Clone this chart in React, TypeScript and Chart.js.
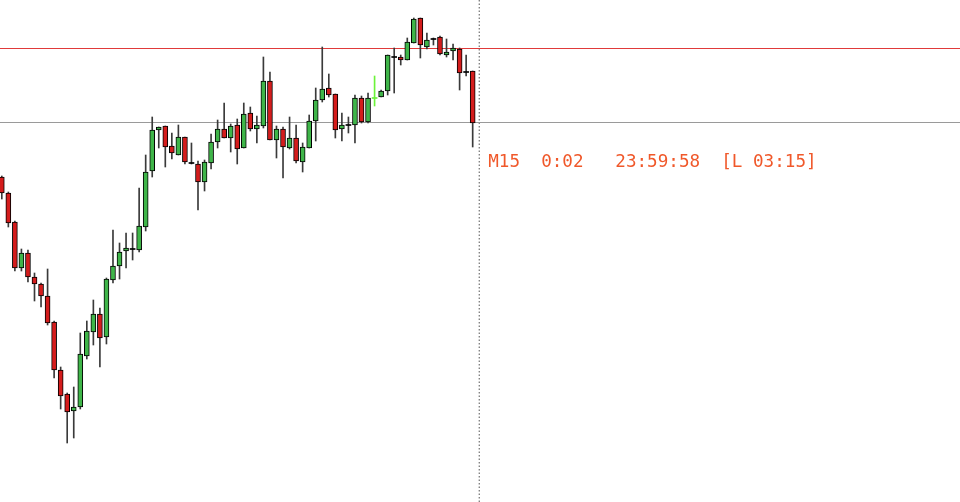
import React, { useEffect, useRef } from "react";
import { Chart, registerables } from "chart.js";

Chart.register(...registerables);

// Candle readings (chart units, axis reversed: smaller = higher price)
const opens = [177,193,222,268,253,277,284,296,322,370,394,411,407,356,332,314,337,280,266,251,249,250,227,171,130,126,146,155,137,163,164,182,163,142,129,138,125,148,113,129,126,81,140,129,148,138,162,148,121,100,88,94,129,125,125,98,122,98,97,91,57,57,60,43,18,47,39,37,55,51,49,72,71];
const highs = [176,192,221,249,250,273,283,269,321,367,393,387,333,321,300,308,278,230,243,233,233,188,155,117,127,126,133,125,137,143,161,160,134,120,103,124,119,103,107,116,57,72,126,127,117,125,143,115,88,47,74,94,113,117,95,96,93,76,90,55,48,55,38,18,18,33,38,36,39,44,48,55,71];
const lows = [199,227,271,271,282,301,307,325,378,409,443,438,409,359,345,367,344,283,279,268,260,252,231,177,148,167,159,155,164,164,210,191,169,148,138,152,164,148,131,143,128,140,158,178,149,163,172,148,141,102,97,138,141,133,143,123,123,106,97,95,93,65,60,43,58,49,45,55,57,60,90,76,147];
const closes = [193,223,268,253,277,284,296,323,370,396,412,407,354,331,314,338,279,266,252,248,249,226,172,130,127,147,153,137,162,163,182,162,142,129,138,126,149,114,129,125,81,140,129,147,138,161,147,121,100,89,95,130,125,125,98,122,98,98,91,55,57,60,42,19,45,40,39,54,52,48,73,72,123];
const specialIdx = [57]; // light-green doji

const resistanceLevel = 48.5;
const bidLevel = 122.5;
const infoText = "M15  0:02   23:59:58  [L 03:15]";

const GREEN = "#3fb549";
const RED = "#d41c1c";
const LIME = "#6cf23a";

export default function App() {
  const ref = useRef<HTMLCanvasElement | null>(null);
  useEffect(() => {
    document.body.style.margin = "0";
    const n = opens.length;
    const step = 6.54;
    const xMin = -1.8 / step;
    const xMax = xMin + 960 / step;
    const idx = opens.map((_, i) => i);

    const wickData = idx.map((i) => ({ x: i, y: [lows[i], highs[i]] }));
    const wickColors = idx.map((i) => (specialIdx.includes(i) ? LIME : "#3a3a3a"));
    const bodyData = idx.map((i) => {
      const o = opens[i], c = closes[i];
      if (Math.abs(o - c) < 0.5) return { x: i, y: [c - 0.5, c + 0.5] };
      return { x: i, y: [o, c] };
    });
    const bodyFill = idx.map((i) => {
      const o = opens[i], c = closes[i];
      if (specialIdx.includes(i)) return LIME;
      if (Math.abs(o - c) < 0.5) return "#000";
      return c < o ? GREEN : RED;
    });
    const bodyBorder = idx.map((i) => {
      const o = opens[i], c = closes[i];
      if (specialIdx.includes(i)) return LIME;
      return Math.abs(o - c) < 0.5 ? "rgba(0,0,0,0)" : "#000";
    });
    const bodyBw = idx.map((i) => (Math.abs(opens[i] - closes[i]) < 0.5 ? 0 : 1));

    const textPlugin = {
      id: "infoText",
      afterDraw(chart: any) {
        const { ctx, scales } = chart;
        const x = scales.x.getPixelForValue(n) + 9;
        const y = scales.y.getPixelForValue(closes[n - 1]) + 43.5;
        ctx.save();
        ctx.font = '17.6px "DejaVu Sans Mono"';
        ctx.fillStyle = "#f0582a";
        ctx.textBaseline = "alphabetic";
        ctx.fillText(infoText, x, y);
        ctx.restore();
      },
    };

    const chart = new Chart(ref.current as HTMLCanvasElement, {
      type: "bar",
      data: {
        datasets: [
          {
            type: "line",
            data: [{ x: xMin - 1, y: resistanceLevel }, { x: xMax + 1, y: resistanceLevel }],
            borderColor: "#e03a3a",
            borderWidth: 1,
            pointRadius: 0,
            order: 3,
          } as any,
          {
            type: "line",
            data: [{ x: xMin - 1, y: bidLevel }, { x: xMax + 1, y: bidLevel }],
            borderColor: "#9a9a9a",
            borderWidth: 1,
            pointRadius: 0,
            order: 3,
          } as any,
          {
            type: "line",
            data: [{ x: n, y: 0 }, { x: n, y: 502 }],
            borderColor: "#555",
            borderWidth: 1,
            borderDash: [1.5, 2],
            pointRadius: 0,
            order: 3,
          } as any,
          {
            type: "bar",
            data: wickData,
            backgroundColor: wickColors,
            barThickness: 1,
            grouped: false,
            order: 2,
          } as any,
          {
            type: "bar",
            data: bodyData,
            backgroundColor: bodyFill,
            borderColor: bodyBorder,
            borderWidth: bodyBw,
            borderSkipped: false,
            barThickness: 5,
            grouped: false,
            order: 1,
          } as any,
        ],
      },
      options: {
        animation: false,
        responsive: false,
        maintainAspectRatio: false,
        layout: { padding: 0 },
        plugins: { legend: { display: false }, tooltip: { enabled: false } },
        scales: {
          x: { type: "linear", min: xMin, max: xMax, display: false, offset: false, grid: { offset: false } },
          y: { type: "linear", min: 0, max: 502, reverse: true, display: false },
        },
      } as any,
      plugins: [textPlugin],
    });
    return () => chart.destroy();
  }, []);

  return (
    <div style={{ width: 960, height: 502, background: "#fff" }}>
      <canvas ref={ref} width={960} height={502} style={{ display: "block" }} />
    </div>
  );
}
